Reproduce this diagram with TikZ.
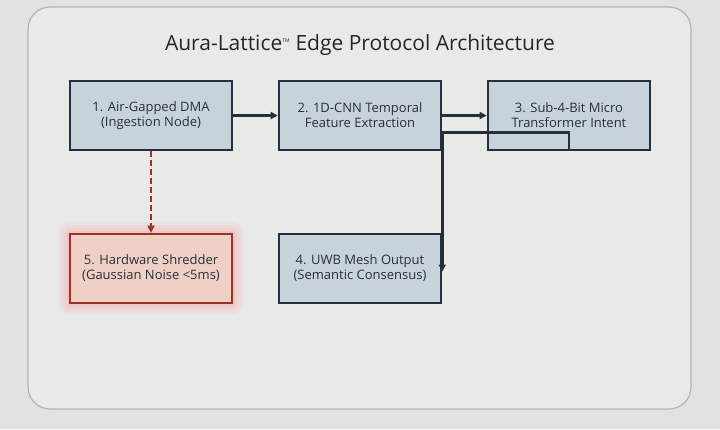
\documentclass[tikz,border=0pt]{standalone}
\usepackage{fontspec}
\setmainfont{Open Sans}
\usetikzlibrary{arrows.meta}
\definecolor{bg}{HTML}{E2E2E0}
\definecolor{frm}{HTML}{E9E9E7}
\definecolor{frmb}{HTML}{B5B5B3}
\definecolor{bfill}{HTML}{C8D2DB}
\definecolor{bdraw}{HTML}{25303C}
\definecolor{rfill}{HTML}{EFD0C6}
\definecolor{rdraw}{HTML}{9C3328}
\definecolor{txt}{HTML}{2A2F36}
\begin{document}
\begin{tikzpicture}[x=1pt,y=-1pt,
  box/.style={draw=bdraw,line width=2.6pt,fill=bfill,minimum width=162pt,minimum height=69pt,align=center,font=\fontsize{13}{15}\selectfont,text=txt,inner sep=0pt},
  red/.style={box,draw=rdraw,fill=rfill},
  con/.style={draw=bdraw,line width=2.6pt},
  arr/.style={con,-{Triangle[length=7pt,width=7pt]}}]
\fill[bg] (0,0) rectangle (720,429);
\useasboundingbox (0,0) rectangle (720,429);
\draw[frmb,fill=frm,line width=1.2pt,rounded corners=22pt] (28,7) rectangle (691,409);
\node[font=\fontsize{21}{24}\selectfont,text=black!85] (title) at (360,45) {Aura-Lattice\textsuperscript{\tiny TM} Edge Protocol Architecture};
\foreach \d/\o in {12/0.06,9/0.08,6/0.1,3/0.12}
  \fill[red!50,opacity=\o,rounded corners=\d pt] (70-\d,234-\d) rectangle (232+\d,303+\d);
\node[box] (n1) at (151,115.5) {1. Air-Gapped DMA\\(Ingestion Node)};
\node[box] (n2) at (360,115.5) {2. 1D-CNN Temporal\\Feature Extraction};
\node[box] (n3) at (569,115.5) {3. Sub-4-Bit Micro\\Transformer Intent};
\node[box] (n4) at (360,268.5) {4. UWB Mesh Output\\(Semantic Consensus)};
\node[red] (n5) at (151,268.5) {5. Hardware Shredder\\(Gaussian Noise <5ms)};
\draw[arr] (n1.east) -- (n2.west);
\draw[arr] (n2.east) -- (n3.west);
\coordinate (j) at ([yshift=-17pt]n2.east);
\draw[con] (j) -- (j -| n3.south) -- (n3.south);
\draw[arr] (j) -- ([yshift=-3pt]n4.east);
\draw[draw=rdraw,line width=2.4pt,dash pattern=on 6pt off 3pt,-{Triangle[length=7pt,width=7pt]}] (n1.south) -- (n5.north);
\end{tikzpicture}
\end{document}
